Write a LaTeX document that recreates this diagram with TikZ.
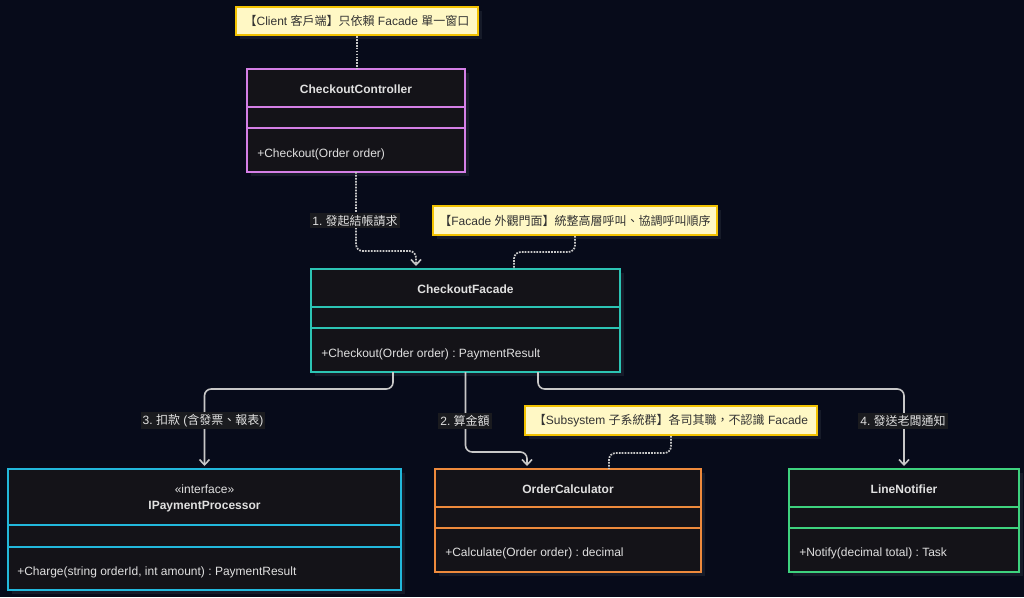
\documentclass[tikz,border=0pt]{standalone}
\usepackage{fontspec}
\setmainfont{Liberation Sans}
\newfontfamily\cjk{Noto Sans CJK TC}
\usetikzlibrary{arrows.meta,calc,shadows}
\definecolor{bg}{HTML}{070B1A}
\definecolor{boxfill}{HTML}{141318}
\definecolor{shadowc}{HTML}{161B29}
\definecolor{notefill}{HTML}{FFF8C5}
\definecolor{noteborder}{HTML}{F2C200}
\definecolor{notetext}{HTML}{333333}
\definecolor{linec}{HTML}{C8C8C8}
\definecolor{txt}{HTML}{E0E0E0}
\definecolor{lblbg}{HTML}{1A1B1F}
\definecolor{cctrl}{HTML}{D47FE6}
\definecolor{cfac}{HTML}{2CC4B4}
\definecolor{cpay}{HTML}{22B8DC}
\definecolor{ccalc}{HTML}{EE8A3C}
\definecolor{cline}{HTML}{3ED27E}
\begin{document}
\frenchspacing
\begin{tikzpicture}[x=0.75pt,y=-0.75pt,
  box/.style={draw, line width=1.5pt, fill=boxfill, inner sep=0pt, outer sep=0pt, anchor=north west,
    drop shadow={shadow xshift=3pt, shadow yshift=-3pt, fill=shadowc, opacity=1}},
  divider/.style={line width=1.5pt},
  nm/.style={text=txt, font=\fontsize{9}{11}\selectfont\bfseries, inner sep=0pt},
  mt/.style={text=txt, font=\fontsize{9}{11}\selectfont, inner sep=0pt, anchor=west},
  note/.style={draw=noteborder, line width=1.5pt, fill=notefill, text=notetext, inner sep=0pt,
    font=\fontsize{9}{11}\selectfont,
    drop shadow={shadow xshift=3pt, shadow yshift=-3pt, fill=shadowc, opacity=1}},
  lbl/.style={fill=lblbg, text=txt, inner sep=1.5pt, font=\fontsize{9}{11}\selectfont},
  conn/.style={draw=linec, line width=1.2pt, rounded corners=5pt, -{Straight Barb[length=4pt,width=7.5pt,line width=1.2pt]}, shorten >=2.25pt},
  dotc/.style={draw=linec, line width=1.3pt, dash pattern=on 1.3pt off 0.9pt, rounded corners=5pt}
]
\fill[bg] (0,0) rectangle (1024,597);
\useasboundingbox (0,0) rectangle (1024,597);

% ---- CheckoutController
\node[box, draw=cctrl, minimum width=163.5pt, minimum height=77.25pt] (ctrl) at (247,69) {};
\draw[divider, cctrl] (247,107) -- (465,107);
\draw[divider, cctrl] (247,128) -- (465,128);
\node[nm] (ctrlname) at (356,89) {CheckoutController};
\node[mt] (ctrlm) at (257,154) {+Checkout(Order order)};

% ---- CheckoutFacade
\node[box, draw=cfac, minimum width=231.75pt, minimum height=77.25pt] (facade) at (311,269) {};
\draw[divider, cfac] (311,307) -- (620,307);
\draw[divider, cfac] (311,328) -- (620,328);
\node[nm] (facname) at (465.5,289) {CheckoutFacade};
\node[mt] (facm) at (321,354) {+Checkout(Order order) : PaymentResult};

% ---- IPaymentProcessor
\node[box, draw=cpay, minimum width=294.75pt, minimum height=90.75pt] (pay) at (8,469) {};
\draw[divider, cpay] (8,525) -- (401,525);
\draw[divider, cpay] (8,547) -- (401,547);
\node[text=txt, font=\fontsize{9}{11}\selectfont, inner sep=0pt] (paystereo) at (204.5,489) {«interface»};
\node[nm] (payname) at (204.5,507) {IPaymentProcessor};
\node[mt] (paym) at (17,572) {+Charge(string orderId, int amount) : PaymentResult};

% ---- OrderCalculator
\node[box, draw=ccalc, minimum width=199.5pt, minimum height=77.25pt] (calc) at (435,469) {};
\draw[divider, ccalc] (435,507) -- (701,507);
\draw[divider, ccalc] (435,528) -- (701,528);
\node[nm] (calcname) at (568,489) {OrderCalculator};
\node[mt] (calcm) at (445,553) {+Calculate(Order order) : decimal};

% ---- LineNotifier
\node[box, draw=cline, minimum width=172.5pt, minimum height=77.25pt] (line) at (789,469) {};
\draw[divider, cline] (789,507) -- (1019,507);
\draw[divider, cline] (789,528) -- (1019,528);
\node[nm] (linename) at (904,489) {LineNotifier};
\node[mt] (linem) at (799,553) {+Notify(decimal total) : Task};

% ---- Notes
\node[note, minimum width=181.5pt, minimum height=21pt] (note1) at (357,21)
  {{\cjk 【}Client {\cjk 客戶端】只依賴} Facade {\cjk 單一窗口}};
\node[note, minimum width=213pt, minimum height=21.75pt] (note2) at (575,220.5)
  {{\cjk 【}Facade {\cjk 外觀門面】統整高層呼叫、協調呼叫順序}};
\node[note, minimum width=219pt, minimum height=21.75pt] (note3) at (671,420.5)
  {{\cjk 【}Subsystem {\cjk 子系統群】各司其職，不認識} Facade};

% ---- Connectors
\draw[dotc] (note1.south) -- (note1.south |- ctrl.north);
\draw[dotc, -{Straight Barb[length=4pt,width=7.5pt,line width=1.2pt]}, shorten >=2.25pt]
  (ctrl.south) -- ++(0,79) -| ($(facade.north west)+(105,0)$);
\draw[dotc] (note2.south) -- ++(0,16) -| ($(facade.north west)+(203,0)$);
\draw[conn] ($(facade.south west)+(82,0)$) -- ++(0,17) -| (pay.north);
\draw[conn] (facade.south) -- ++(0,80) -| ($(calc.north west)+(92,0)$);
\draw[conn] ($(facade.south west)+(227,0)$) -- ++(0,17) -| (line.north);
\draw[dotc] (note3.south) -- ++(0,17) -| ($(calc.north west)+(174,0)$);

% ---- Connector labels
\node[lbl] (l1) at (355,220.5) {1. {\cjk 發起結帳請求}};
\node[lbl] (l3) at (203,420.5) {3. {\cjk 扣款} ({\cjk 含發票、報表})};
\node[lbl] (l2) at (465,421) {2. {\cjk 算金額}};
\node[lbl] (l4) at (903,421) {4. {\cjk 發送老闆通知}};
\end{tikzpicture}
\end{document}
